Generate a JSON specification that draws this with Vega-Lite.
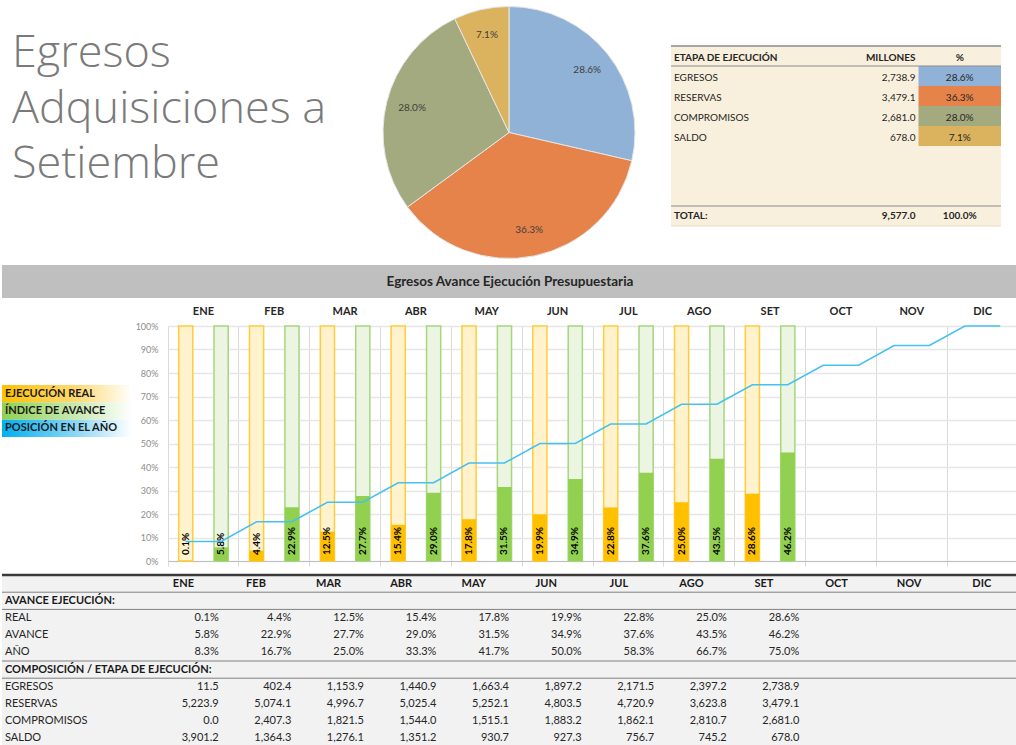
{
  "$schema": "https://vega.github.io/schema/vega-lite/v6.json",
  "padding": 0,
  "spacing": 0,
  "background": "#ffffff",
  "config": {"view": {"stroke": null}, "font": "Lato", "axis": {"labelFont": "Lato"}},
  "datasets": {
    "etapas": [
      {"fila": "EGRESOS", "etiqueta": "EGRESOS", "millones": 2738.9, "pct": 0.286, "orden": 1},
      {"fila": "RESERVAS", "etiqueta": "RESERVAS", "millones": 3479.1, "pct": 0.363, "orden": 2},
      {"fila": "COMPROMISOS", "etiqueta": "COMPROMISOS", "millones": 2681.0, "pct": 0.280, "orden": 3},
      {"fila": "SALDO", "etiqueta": "SALDO", "millones": 678.0, "pct": 0.071, "orden": 4},
      {"fila": "TOTAL", "etiqueta": "TOTAL:", "millones": 9577.0, "pct": 1.0, "orden": 5}
    ],
    "avance": [
      {"mes": "ENE", "tipo": "REAL", "valor": 0.001, "anio": 0.083},
      {"mes": "ENE", "tipo": "AVANCE", "valor": 0.058, "anio": 0.083},
      {"mes": "FEB", "tipo": "REAL", "valor": 0.044, "anio": 0.167},
      {"mes": "FEB", "tipo": "AVANCE", "valor": 0.229, "anio": 0.167},
      {"mes": "MAR", "tipo": "REAL", "valor": 0.125, "anio": 0.25},
      {"mes": "MAR", "tipo": "AVANCE", "valor": 0.277, "anio": 0.25},
      {"mes": "ABR", "tipo": "REAL", "valor": 0.154, "anio": 0.333},
      {"mes": "ABR", "tipo": "AVANCE", "valor": 0.29, "anio": 0.333},
      {"mes": "MAY", "tipo": "REAL", "valor": 0.178, "anio": 0.417},
      {"mes": "MAY", "tipo": "AVANCE", "valor": 0.315, "anio": 0.417},
      {"mes": "JUN", "tipo": "REAL", "valor": 0.199, "anio": 0.5},
      {"mes": "JUN", "tipo": "AVANCE", "valor": 0.349, "anio": 0.5},
      {"mes": "JUL", "tipo": "REAL", "valor": 0.228, "anio": 0.583},
      {"mes": "JUL", "tipo": "AVANCE", "valor": 0.376, "anio": 0.583},
      {"mes": "AGO", "tipo": "REAL", "valor": 0.25, "anio": 0.667},
      {"mes": "AGO", "tipo": "AVANCE", "valor": 0.435, "anio": 0.667},
      {"mes": "SET", "tipo": "REAL", "valor": 0.286, "anio": 0.75},
      {"mes": "SET", "tipo": "AVANCE", "valor": 0.462, "anio": 0.75},
      {"mes": "OCT", "tipo": "REAL", "valor": null, "anio": 0.833},
      {"mes": "OCT", "tipo": "AVANCE", "valor": null, "anio": 0.833},
      {"mes": "NOV", "tipo": "REAL", "valor": null, "anio": 0.917},
      {"mes": "NOV", "tipo": "AVANCE", "valor": null, "anio": 0.917},
      {"mes": "DIC", "tipo": "REAL", "valor": null, "anio": 1.0},
      {"mes": "DIC", "tipo": "AVANCE", "valor": null, "anio": 1.0}
    ],
    "tabla": [
      {"mes": "ENE", "REAL": 0.001, "AVANCE": 0.058, "AÑO": 0.083, "EGRESOS": 11.5, "RESERVAS": 5223.9, "COMPROMISOS": 0.0, "SALDO": 3901.2},
      {"mes": "FEB", "REAL": 0.044, "AVANCE": 0.229, "AÑO": 0.167, "EGRESOS": 402.4, "RESERVAS": 5074.1, "COMPROMISOS": 2407.3, "SALDO": 1364.3},
      {"mes": "MAR", "REAL": 0.125, "AVANCE": 0.277, "AÑO": 0.25, "EGRESOS": 1153.9, "RESERVAS": 4996.7, "COMPROMISOS": 1821.5, "SALDO": 1276.1},
      {"mes": "ABR", "REAL": 0.154, "AVANCE": 0.29, "AÑO": 0.333, "EGRESOS": 1440.9, "RESERVAS": 5025.4, "COMPROMISOS": 1544.0, "SALDO": 1351.2},
      {"mes": "MAY", "REAL": 0.178, "AVANCE": 0.315, "AÑO": 0.417, "EGRESOS": 1663.4, "RESERVAS": 5252.1, "COMPROMISOS": 1515.1, "SALDO": 930.7},
      {"mes": "JUN", "REAL": 0.199, "AVANCE": 0.349, "AÑO": 0.5, "EGRESOS": 1897.2, "RESERVAS": 4803.5, "COMPROMISOS": 1883.2, "SALDO": 927.3},
      {"mes": "JUL", "REAL": 0.228, "AVANCE": 0.376, "AÑO": 0.583, "EGRESOS": 2171.5, "RESERVAS": 4720.9, "COMPROMISOS": 1862.1, "SALDO": 756.7},
      {"mes": "AGO", "REAL": 0.25, "AVANCE": 0.435, "AÑO": 0.667, "EGRESOS": 2397.2, "RESERVAS": 3623.8, "COMPROMISOS": 2810.7, "SALDO": 745.2},
      {"mes": "SET", "REAL": 0.286, "AVANCE": 0.462, "AÑO": 0.75, "EGRESOS": 2738.9, "RESERVAS": 3479.1, "COMPROMISOS": 2681.0, "SALDO": 678.0}
    ],
    "filas": [
      {"fila": "AVANCE EJECUCIÓN:"},
      {"fila": "REAL"},
      {"fila": "AVANCE"},
      {"fila": "AÑO"},
      {"fila": "COMPOSICIÓN / ETAPA DE EJECUCIÓN:"},
      {"fila": "EGRESOS"},
      {"fila": "RESERVAS"},
      {"fila": "COMPROMISOS"},
      {"fila": "SALDO"}
    ]
  },
  "vconcat": [
    {
      "spacing": 24,
      "hconcat": [
        {
          "width": 346,
          "height": 265,
          "data": {"values": [{"linea": "Egresos"}, {"linea": "Adquisiciones a"}, {"linea": "Setiembre"}]},
          "mark": {"type": "text", "align": "left", "baseline": "middle", "font": "Open Sans", "fontSize": 45, "fontWeight": 300, "color": "#7a7a7a", "dx": 10},
          "encoding": {
            "y": {"field": "linea", "type": "nominal", "sort": null, "axis": null, "scale": {"type": "band", "paddingInner": 0, "paddingOuter": 0.909, "align": 0.26}},
            "x": {"datum": 0, "type": "quantitative", "scale": {"domain": [0, 1]}, "axis": null},
            "text": {"field": "linea"}
          }
        },
        {
          "width": 274,
          "height": 265,
          "data": {"name": "etapas"},
          "transform": [{"filter": "datum.fila !== 'TOTAL'"}],
          "layer": [
            {
              "mark": {"type": "arc", "outerRadius": 126, "stroke": "#e6e6e6", "strokeWidth": 1},
              "encoding": {
                "theta": {"field": "millones", "type": "quantitative", "stack": true},
                "order": {"field": "orden", "type": "quantitative"},
                "color": {"field": "fila", "type": "nominal", "scale": {"domain": ["EGRESOS", "RESERVAS", "COMPROMISOS", "SALDO"], "range": ["#8fb2d6", "#e5834a", "#a3aa7f", "#dbb35e"]}, "legend": null}
              }
            },
            {
              "mark": {"type": "text", "radius": 100, "fontSize": 10, "color": "#404040"},
              "encoding": {
                "theta": {"field": "millones", "type": "quantitative", "stack": true},
                "order": {"field": "orden", "type": "quantitative"},
                "text": {"field": "pct", "format": ".1%"}
              }
            }
          ]
        },
        {
          "width": 330,
          "height": 265,
          "layer": [
            {
              "data": {"values": [{"fila": "hdr"}, {"fila": "EGRESOS"}, {"fila": "RESERVAS"}, {"fila": "COMPROMISOS"}, {"fila": "SALDO"}, {"fila": "b1"}, {"fila": "b2"}, {"fila": "b3"}, {"fila": "TOTAL"}]},
              "mark": {"type": "rect", "fill": "#f8efdc"},
              "encoding": {
                "y": {"field": "fila", "type": "nominal", "axis": null, "scale": {"type": "band", "domain": ["t1", "t2", "hdr", "EGRESOS", "RESERVAS", "COMPROMISOS", "SALDO", "b1", "b2", "b3", "TOTAL", "z1"], "paddingInner": 0, "paddingOuter": 0.625, "align": 0.24}}
              }
            },
            {
              "data": {"name": "etapas"},
              "transform": [{"filter": "datum.fila !== 'TOTAL'"}],
              "mark": {"type": "rect"},
              "encoding": {
                "y": {"field": "fila", "type": "nominal", "axis": null},
                "x": {"datum": "pct", "type": "nominal", "axis": null, "scale": {"type": "band", "domain": ["etapa", "vacio", "millones", "pct"], "paddingInner": 0, "paddingOuter": 0}},
                "color": {"field": "fila", "type": "nominal", "scale": {"domain": ["EGRESOS", "RESERVAS", "COMPROMISOS", "SALDO"], "range": ["#95b3d7", "#e07b41", "#a4ab80", "#dab25c"]}, "legend": null}
              }
            },
            {
              "data": {"values": [{}]},
              "mark": {"type": "rule", "color": "#a6a6a6", "strokeWidth": 2},
              "encoding": {"y": {"datum": "hdr", "type": "nominal", "bandPosition": 0, "axis": null}}
            },
            {
              "data": {"values": [{}]},
              "mark": {"type": "rule", "color": "#8c8c8c", "strokeWidth": 1},
              "encoding": {"y": {"datum": "hdr", "type": "nominal", "bandPosition": 1, "axis": null}}
            },
            {
              "data": {"values": [{}]},
              "mark": {"type": "rule", "color": "#8c8c8c", "strokeWidth": 1},
              "encoding": {"y": {"datum": "TOTAL", "type": "nominal", "bandPosition": 0, "axis": null}}
            },
            {
              "data": {"values": [{}]},
              "mark": {"type": "rule", "color": "#eadcc0", "strokeWidth": 1},
              "encoding": {"y": {"datum": "TOTAL", "type": "nominal", "bandPosition": 1, "axis": null}}
            },
            {
              "data": {"values": [{}]},
              "mark": {"type": "text", "align": "left", "dx": 3, "dy": 2, "fontSize": 10, "fontWeight": "bold", "color": "#262626"},
              "encoding": {
                "y": {"datum": "hdr", "type": "nominal", "axis": null},
                "x": {"datum": "etapa", "type": "nominal", "bandPosition": 0, "axis": null},
                "text": {"value": "ETAPA DE EJECUCIÓN"}
              }
            },
            {
              "data": {"values": [{}]},
              "mark": {"type": "text", "align": "right", "dx": -3, "dy": 2, "fontSize": 10, "fontWeight": "bold", "color": "#262626"},
              "encoding": {
                "y": {"datum": "hdr", "type": "nominal", "axis": null},
                "x": {"datum": "millones", "type": "nominal", "bandPosition": 1, "axis": null},
                "text": {"value": "MILLONES"}
              }
            },
            {
              "data": {"values": [{}]},
              "mark": {"type": "text", "align": "center", "dy": 2, "fontSize": 10, "fontWeight": "bold", "color": "#262626"},
              "encoding": {
                "y": {"datum": "hdr", "type": "nominal", "axis": null},
                "x": {"datum": "pct", "type": "nominal", "axis": null},
                "text": {"value": "%"}
              }
            },
            {
              "data": {"name": "etapas"},
              "transform": [{"filter": "datum.fila !== 'TOTAL'"}],
              "layer": [
                {
                  "mark": {"type": "text", "align": "left", "dx": 3, "dy": 2, "fontSize": 10, "color": "#262626"},
                  "encoding": {
                    "y": {"field": "fila", "type": "nominal", "axis": null},
                    "x": {"datum": "etapa", "type": "nominal", "bandPosition": 0, "axis": null},
                    "text": {"field": "etiqueta"}
                  }
                },
                {
                  "mark": {"type": "text", "align": "right", "dx": -3, "dy": 2, "fontSize": 10, "color": "#262626"},
                  "encoding": {
                    "y": {"field": "fila", "type": "nominal", "axis": null},
                    "x": {"datum": "millones", "type": "nominal", "bandPosition": 1, "axis": null},
                    "text": {"field": "millones", "format": ",.1f"}
                  }
                },
                {
                  "mark": {"type": "text", "align": "center", "dy": 2, "fontSize": 10, "color": "#262626"},
                  "encoding": {
                    "y": {"field": "fila", "type": "nominal", "axis": null},
                    "x": {"datum": "pct", "type": "nominal", "axis": null},
                    "text": {"field": "pct", "format": ".1%"}
                  }
                }
              ]
            },
            {
              "data": {"name": "etapas"},
              "transform": [{"filter": "datum.fila === 'TOTAL'"}],
              "layer": [
                {
                  "mark": {"type": "text", "align": "left", "dx": 3, "fontSize": 10, "fontWeight": "bold", "color": "#262626"},
                  "encoding": {
                    "y": {"field": "fila", "type": "nominal", "axis": null},
                    "x": {"datum": "etapa", "type": "nominal", "bandPosition": 0, "axis": null},
                    "text": {"field": "etiqueta"}
                  }
                },
                {
                  "mark": {"type": "text", "align": "right", "dx": -3, "fontSize": 10, "fontWeight": "bold", "color": "#262626"},
                  "encoding": {
                    "y": {"field": "fila", "type": "nominal", "axis": null},
                    "x": {"datum": "millones", "type": "nominal", "bandPosition": 1, "axis": null},
                    "text": {"field": "millones", "format": ",.1f"}
                  }
                },
                {
                  "mark": {"type": "text", "align": "center", "fontSize": 10, "fontWeight": "bold", "color": "#262626"},
                  "encoding": {
                    "y": {"field": "fila", "type": "nominal", "axis": null},
                    "x": {"datum": "pct", "type": "nominal", "axis": null},
                    "text": {"field": "pct", "format": ".1%"}
                  }
                }
              ]
            }
          ]
        }
      ]
    },
    {
      "width": 1016,
      "height": 33,
      "view": {"fill": "#bfbfbf"},
      "data": {"values": [{"t": "Egresos Avance Ejecución Presupuestaria"}]},
      "mark": {"type": "text", "fontSize": 13.5, "fontWeight": "bold", "color": "#262626"},
      "encoding": {"text": {"field": "t"}}
    },
    {
      "spacing": 0,
      "hconcat": [
        {
          "width": 130,
          "height": 235,
          "data": {"values": [{"serie": "EJECUCIÓN REAL"}, {"serie": "ÍNDICE DE AVANCE"}, {"serie": "POSICIÓN EN EL AÑO"}]},
          "layer": [
            {
              "mark": {"type": "rect"},
              "encoding": {
                "y": {"field": "serie", "type": "nominal", "axis": null, "scale": {"type": "band", "domain": ["a1", "a2", "a3", "EJECUCIÓN REAL", "ÍNDICE DE AVANCE", "POSICIÓN EN EL AÑO", "b1", "b2", "b3", "b4", "b5", "b6", "b7"], "paddingInner": 0, "paddingOuter": 0.28, "align": 0.72}},
                "fill": {
                  "condition": [
                    {"test": "datum.serie === 'EJECUCIÓN REAL'", "value": {"gradient": "linear", "stops": [{"offset": 0, "color": "#ffc000"}, {"offset": 0.6, "color": "#ffdb7a"}, {"offset": 1, "color": "#ffffff"}]}},
                    {"test": "datum.serie === 'ÍNDICE DE AVANCE'", "value": {"gradient": "linear", "stops": [{"offset": 0, "color": "#92d050"}, {"offset": 0.6, "color": "#cdeab6"}, {"offset": 1, "color": "#ffffff"}]}}
                  ],
                  "value": {"gradient": "linear", "stops": [{"offset": 0, "color": "#00b0f0"}, {"offset": 0.6, "color": "#94d9f5"}, {"offset": 1, "color": "#ffffff"}]}
                }
              }
            },
            {
              "mark": {"type": "text", "align": "left", "dx": 3, "fontSize": 11, "fontWeight": "bold", "color": "#1a1a1a"},
              "encoding": {
                "y": {"field": "serie", "type": "nominal", "axis": null},
                "x": {"datum": 0, "type": "quantitative", "scale": {"domain": [0, 1]}, "axis": null},
                "text": {"field": "serie"}
              }
            }
          ]
        },
        {
          "width": 850,
          "height": 235,
          "data": {"name": "avance"},
          "resolve": {"axis": {"x": "independent"}},
          "layer": [
            {
              "transform": [{"filter": "datum.valor != null"}],
              "mark": {"type": "bar", "strokeWidth": 1.5},
              "encoding": {
                "x": {"field": "mes", "type": "nominal", "sort": ["ENE", "FEB", "MAR", "ABR", "MAY", "JUN", "JUL", "AGO", "SET", "OCT", "NOV", "DIC"], "scale": {"domain": ["ENE", "FEB", "MAR", "ABR", "MAY", "JUN", "JUL", "AGO", "SET", "OCT", "NOV", "DIC"], "paddingInner": 0, "paddingOuter": 0},
                  "axis": {"orient": "bottom", "bandPosition": 0, "grid": true, "gridColor": "#d9d9d9", "ticks": true, "tickColor": "#d9d9d9", "tickSize": 5, "labels": false, "domain": true, "domainColor": "#bfbfbf", "title": null, "minExtent": 12}},
                "xOffset": {"field": "tipo", "type": "nominal", "sort": ["REAL", "AVANCE"], "scale": {"paddingInner": 0.6, "paddingOuter": 0.3}},
                "y": {"datum": 1, "type": "quantitative", "scale": {"domain": [0, 1], "nice": false},
                  "axis": {"orient": "left", "format": "%", "values": [0, 0.1, 0.2, 0.3, 0.4, 0.5, 0.6, 0.7, 0.8, 0.9, 1], "grid": true, "gridColor": "#e6e6e6", "gridWidth": 1.5, "ticks": false, "domain": false, "labelColor": "#8c8c8c", "labelFontSize": 9, "labelPadding": 10, "title": null, "minExtent": 36}},
                "fill": {"condition": {"test": "datum.tipo === 'REAL'", "value": "#fff2cc"}, "value": "#ebf5e1"},
                "stroke": {"condition": {"test": "datum.tipo === 'REAL'", "value": "#ffcd3c"}, "value": "#a6d67e"}
              }
            },
            {
              "transform": [{"filter": "datum.valor != null"}],
              "mark": {"type": "bar"},
              "encoding": {
                "x": {"field": "mes", "type": "nominal", "sort": ["ENE", "FEB", "MAR", "ABR", "MAY", "JUN", "JUL", "AGO", "SET", "OCT", "NOV", "DIC"],
                  "axis": {"orient": "top", "bandPosition": 0.25, "grid": false, "ticks": false, "domain": false, "labelFontSize": 11, "labelFontWeight": "bold", "labelColor": "#262626", "labelPadding": 10, "labelAngle": 0, "title": null, "minExtent": 28}},
                "xOffset": {"field": "tipo", "type": "nominal", "sort": ["REAL", "AVANCE"]},
                "y": {"field": "valor", "type": "quantitative",
                  "axis": {"orient": "left", "format": "%", "values": [0, 0.1, 0.2, 0.3, 0.4, 0.5, 0.6, 0.7, 0.8, 0.9, 1], "grid": true, "gridColor": "#e6e6e6", "gridWidth": 1.5, "ticks": false, "domain": false, "labelColor": "#8c8c8c", "labelFontSize": 9, "labelPadding": 10, "title": null, "minExtent": 36}},
                "fill": {"condition": {"test": "datum.tipo === 'REAL'", "value": "#ffc000"}, "value": "#92d050"}
              }
            },
            {
              "transform": [{"filter": "datum.valor != null"}],
              "mark": {"type": "text", "angle": 270, "align": "left", "baseline": "middle", "dx": 6, "fontSize": 10, "fontWeight": "bold", "color": "#000000"},
              "encoding": {
                "x": {"field": "mes", "type": "nominal", "sort": ["ENE", "FEB", "MAR", "ABR", "MAY", "JUN", "JUL", "AGO", "SET", "OCT", "NOV", "DIC"], "axis": null},
                "xOffset": {"field": "tipo", "type": "nominal", "sort": ["REAL", "AVANCE"]},
                "y": {"datum": 0, "type": "quantitative",
                  "axis": {"orient": "left", "format": "%", "values": [0, 0.1, 0.2, 0.3, 0.4, 0.5, 0.6, 0.7, 0.8, 0.9, 1], "grid": true, "gridColor": "#e6e6e6", "gridWidth": 1.5, "ticks": false, "domain": false, "labelColor": "#8c8c8c", "labelFontSize": 9, "labelPadding": 10, "title": null, "minExtent": 36}},
                "text": {"field": "valor", "format": ".1%"}
              }
            },
            {
              "mark": {"type": "line", "color": "#45c1ef", "strokeWidth": 1.6},
              "encoding": {
                "x": {"field": "mes", "type": "nominal", "sort": ["ENE", "FEB", "MAR", "ABR", "MAY", "JUN", "JUL", "AGO", "SET", "OCT", "NOV", "DIC"], "axis": null},
                "xOffset": {"field": "tipo", "type": "nominal", "sort": ["REAL", "AVANCE"]},
                "y": {"field": "anio", "type": "quantitative",
                  "axis": {"orient": "left", "format": "%", "values": [0, 0.1, 0.2, 0.3, 0.4, 0.5, 0.6, 0.7, 0.8, 0.9, 1], "grid": true, "gridColor": "#e6e6e6", "gridWidth": 1.5, "ticks": false, "domain": false, "labelColor": "#8c8c8c", "labelFontSize": 9, "labelPadding": 10, "title": null, "minExtent": 36}},
                "order": {"value": null}
              }
            }
          ]
        }
      ]
    },
    {
      "width": 1016,
      "height": 172,
      "view": {"fill": "#f2f2f2"},
      "resolve": {"scale": {"x": "independent"}},
      "layer": [
        {
          "data": {"values": [{"fila": "hdr"}, {"fila": "AVANCE EJECUCIÓN:"}, {"fila": "AÑO"}, {"fila": "COMPOSICIÓN / ETAPA DE EJECUCIÓN:"}]},
          "mark": {"type": "rule", "color": "#808080", "strokeWidth": 1},
          "encoding": {
            "y": {"field": "fila", "type": "nominal", "bandPosition": 1, "axis": null, "scale": {"type": "band", "domain": ["hdr", "AVANCE EJECUCIÓN:", "REAL", "AVANCE", "AÑO", "COMPOSICIÓN / ETAPA DE EJECUCIÓN:", "EGRESOS", "RESERVAS", "COMPROMISOS", "SALDO"], "paddingInner": 0, "paddingOuter": 0}}
          }
        },
        {
          "data": {"values": [{}]},
          "mark": {"type": "rule", "color": "#3a3a3a", "strokeWidth": 2.5},
          "encoding": {"y": {"datum": "hdr", "type": "nominal", "bandPosition": 0, "axis": null}}
        },
        {
          "data": {"name": "filas"},
          "transform": [{"filter": "indexof(datum.fila, ':') < 0"}],
          "mark": {"type": "text", "align": "left", "dx": 3, "fontSize": 11, "color": "#262626"},
          "encoding": {
            "y": {"field": "fila", "type": "nominal", "axis": null},
            "x": {"datum": 0, "type": "quantitative", "scale": {"domain": [0, 1]}, "axis": null},
            "text": {"field": "fila"}
          }
        },
        {
          "data": {"name": "filas"},
          "transform": [{"filter": "indexof(datum.fila, ':') >= 0"}],
          "mark": {"type": "text", "align": "left", "dx": 3, "fontSize": 11, "fontWeight": "bold", "color": "#1a1a1a"},
          "encoding": {
            "y": {"field": "fila", "type": "nominal", "axis": null},
            "x": {"datum": 0, "type": "quantitative", "scale": {"domain": [0, 1]}, "axis": null},
            "text": {"field": "fila"}
          }
        },
        {
          "data": {"name": "avance"},
          "transform": [{"filter": "datum.tipo === 'REAL'"}],
          "mark": {"type": "text", "align": "center", "fontSize": 11, "fontWeight": "bold", "color": "#1a1a1a"},
          "encoding": {
            "y": {"datum": "hdr", "type": "nominal", "axis": null},
            "x": {"field": "mes", "type": "nominal", "sort": ["ENE", "FEB", "MAR", "ABR", "MAY", "JUN", "JUL", "AGO", "SET", "OCT", "NOV", "DIC"], "scale": {"type": "band", "domain": ["ENE", "FEB", "MAR", "ABR", "MAY", "JUN", "JUL", "AGO", "SET", "OCT", "NOV", "DIC"], "paddingInner": 0, "paddingOuter": 1.007, "align": 1}, "axis": null},
            "text": {"field": "mes"}
          }
        },
        {
          "data": {"name": "tabla"},
          "transform": [{"fold": ["REAL", "AVANCE", "AÑO"], "as": ["fila", "v"]}],
          "mark": {"type": "text", "align": "right", "dx": -1, "fontSize": 11, "color": "#262626"},
          "encoding": {
            "y": {"field": "fila", "type": "nominal", "axis": null},
            "x": {"field": "mes", "type": "nominal", "bandPosition": 1, "sort": ["ENE", "FEB", "MAR", "ABR", "MAY", "JUN", "JUL", "AGO", "SET", "OCT", "NOV", "DIC"], "scale": {"type": "band", "domain": ["ENE", "FEB", "MAR", "ABR", "MAY", "JUN", "JUL", "AGO", "SET", "OCT", "NOV", "DIC"], "paddingInner": 0, "paddingOuter": 1.007, "align": 1}, "axis": null},
            "text": {"field": "v", "format": ".1%"}
          }
        },
        {
          "data": {"name": "tabla"},
          "transform": [{"fold": ["EGRESOS", "RESERVAS", "COMPROMISOS", "SALDO"], "as": ["fila", "v"]}],
          "mark": {"type": "text", "align": "right", "dx": -1, "fontSize": 11, "color": "#262626"},
          "encoding": {
            "y": {"field": "fila", "type": "nominal", "axis": null},
            "x": {"field": "mes", "type": "nominal", "bandPosition": 1, "sort": ["ENE", "FEB", "MAR", "ABR", "MAY", "JUN", "JUL", "AGO", "SET", "OCT", "NOV", "DIC"], "scale": {"type": "band", "domain": ["ENE", "FEB", "MAR", "ABR", "MAY", "JUN", "JUL", "AGO", "SET", "OCT", "NOV", "DIC"], "paddingInner": 0, "paddingOuter": 1.007, "align": 1}, "axis": null},
            "text": {"field": "v", "format": ",.1f"}
          }
        }
      ]
    }
  ]
}
